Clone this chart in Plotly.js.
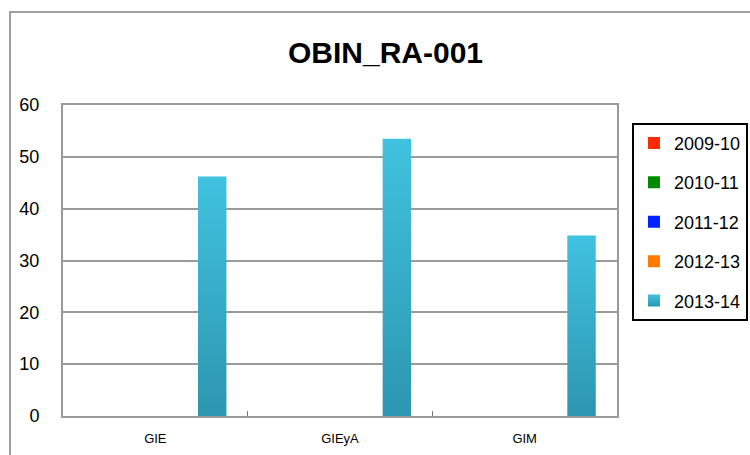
<!DOCTYPE html>
<html>
<head>
<meta charset="utf-8">
<script src="https://cdn.plot.ly/plotly-3.0.1.min.js"></script>
<style>
  html, body { margin: 0; padding: 0; background: #ffffff; }
  #wrap { position: relative; width: 750px; height: 455px; overflow: hidden; }
  #chart { position: absolute; left: 0; top: 0; width: 750px; height: 455px; }
  #frame { position: absolute; left: 9px; top: 11px; width: 760px; height: 460px;
           border-left: 2px solid #a0a0a0; border-top: 2px solid #a0a0a0; pointer-events: none; }
</style>
</head>
<body>
<div id="wrap">
  <div id="chart"></div>
  <div id="frame"></div>
</div>
<script>
// ---- data ----
var categories = ["GIE", "GIEyA", "GIM"];
var seriesNames = ["2009-10", "2010-11", "2011-12", "2012-13", "2013-14"];
var values_2009_10 = [null, null, null];
var values_2010_11 = [null, null, null];
var values_2011_12 = [null, null, null];
var values_2012_13 = [null, null, null];
var values_2013_14 = [46.2, 53.5, 34.8];
var seriesColors = ["#ff2a00", "#008a00", "#0022ff", "#ff7a00", "#38b0d0"];
var yTicks = [0, 10, 20, 30, 40, 50, 60];

var allValues = [values_2009_10, values_2010_11, values_2011_12, values_2012_13, values_2013_14];
var FONT = '"Liberation Sans", Arial, sans-serif';

var traces = seriesNames.map(function (name, i) {
  return {
    type: "bar",
    name: name,
    x: categories,
    y: allValues[i],
    legendgroup: "g" + i,
    marker: { color: seriesColors[i], line: { width: 0 } },
    hoverinfo: "x+y+name"
  };
});

var layout = {
  width: 750,
  height: 455,
  margin: { l: 63, r: 133, t: 105, b: 39, autoexpand: false },
  paper_bgcolor: "#ffffff",
  plot_bgcolor: "#ffffff",
  font: { family: FONT, color: "#000000", size: 18 },
  title: {
    text: "<b>OBIN_RA-001</b>",
    font: { family: FONT, size: 30, color: "#000000" },
    x: 0.514, xanchor: "center", xref: "container",
    y: 0.884, yanchor: "middle", yref: "container"
  },
  barmode: "group",
  bargap: 0.23,
  bargroupgap: 0,
  showlegend: true,
  legend: {
    x: 1.027, xanchor: "left", xref: "paper",
    y: 0.943, yanchor: "top", yref: "paper",
    bordercolor: "#000000", borderwidth: 2,
    bgcolor: "#ffffff",
    font: { family: FONT, size: 18, color: "#000000" },
    traceorder: "grouped",
    tracegroupgap: 13
  },
  xaxis: {
    type: "category",
    showline: true, mirror: true, linecolor: "#9a9a9a", linewidth: 2,
    showgrid: false, zeroline: false,
    ticks: "inside", ticklen: 5, tickwidth: 1, tickcolor: "#7a7a7a",
    tickson: "boundaries",
    tickfont: { family: FONT, size: 13, color: "#000000" },
    ticklabelstandoff: 9,
    fixedrange: true
  },
  yaxis: {
    range: [0, 60],
    tickmode: "array",
    tickvals: yTicks,
    ticktext: yTicks.map(String),
    showline: true, mirror: true, linecolor: "#9a9a9a", linewidth: 2,
    showgrid: true, gridcolor: "#9a9a9a", gridwidth: 2,
    zeroline: false,
    ticks: "",
    tickfont: { family: FONT, size: 18, color: "#000000" },
    ticklabelstandoff: 18,
    fixedrange: true
  }
};

function applyGradient() {
  var svg = document.querySelector("#chart svg.main-svg");
  if (!svg) return;
  var ns = "http://www.w3.org/2000/svg";
  var defs = svg.querySelector("defs") || svg.insertBefore(document.createElementNS(ns, "defs"), svg.firstChild);
  if (!document.getElementById("barGrad")) {
    var g = document.createElementNS(ns, "linearGradient");
    g.setAttribute("id", "barGrad");
    g.setAttribute("x1", "0"); g.setAttribute("y1", "0");
    g.setAttribute("x2", "0"); g.setAttribute("y2", "1");
    var s1 = document.createElementNS(ns, "stop");
    s1.setAttribute("offset", "0"); s1.setAttribute("stop-color", "#40c2e0");
    var s2 = document.createElementNS(ns, "stop");
    s2.setAttribute("offset", "1"); s2.setAttribute("stop-color", "#2d96b0");
    g.appendChild(s1); g.appendChild(s2);
    defs.appendChild(g);
  }
  var idx = seriesNames.length - 1;
  var bars = document.querySelectorAll("#chart .barlayer .trace.bars");
  if (bars[idx]) {
    bars[idx].querySelectorAll("path").forEach(function (p) { p.style.fill = "url(#barGrad)"; });
  }
  var legendPts = document.querySelectorAll("#chart .legend .traces");
  if (legendPts[idx]) {
    legendPts[idx].querySelectorAll(".legendpoints path").forEach(function (p) { p.style.fill = "url(#barGrad)"; });
  }
}

Plotly.newPlot("chart", traces, layout, { displayModeBar: false, staticPlot: true }).then(applyGradient);
</script>
</body>
</html>
